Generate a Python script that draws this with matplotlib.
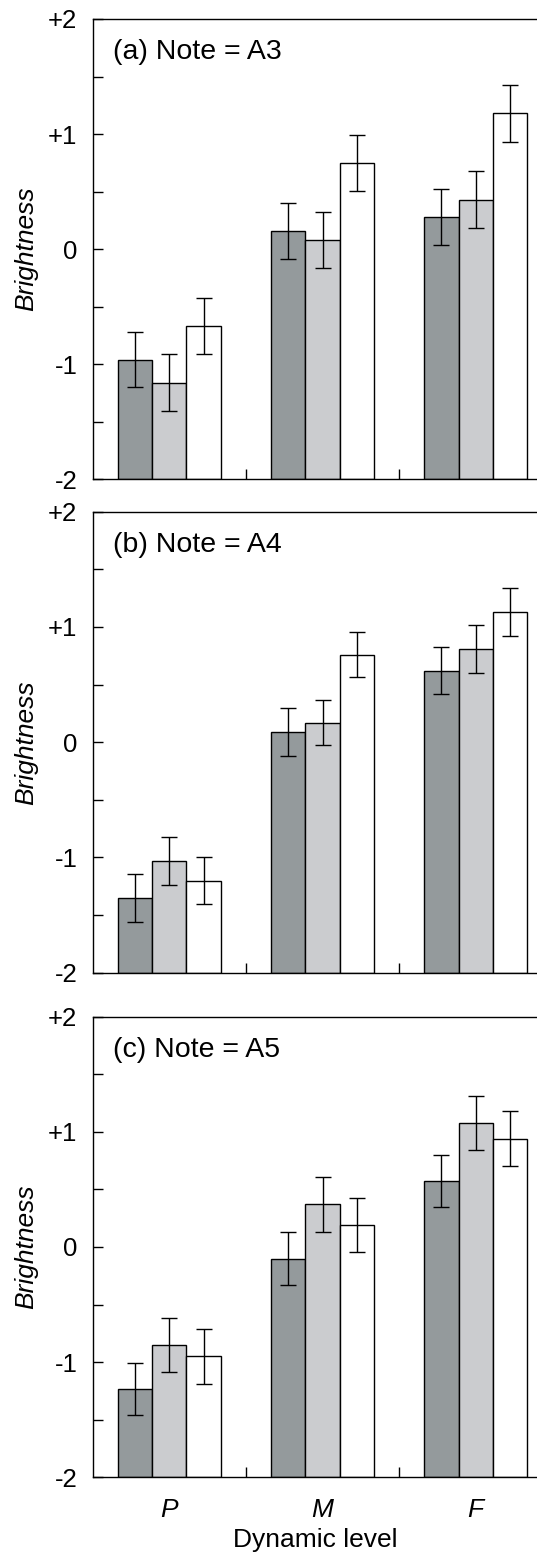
import numpy as np
import matplotlib
matplotlib.use("Agg")
import matplotlib.pyplot as plt

plt.rcParams['font.family'] = ['Liberation Sans', 'DejaVu Sans']

levels = ['P', 'M', 'F']
panel_titles = ['(a) Note = A3', '(b) Note = A4', '(c) Note = A5']

# bar heights per panel: rows = dark, light, white series; columns = P, M, F
means_a3 = [[-0.96, 0.16, 0.28],
            [-1.16, 0.08, 0.43],
            [-0.67, 0.75, 1.18]]
errs_a3 = [[0.24, 0.245, 0.24],
           [0.245, 0.24, 0.245],
           [0.245, 0.245, 0.245]]

means_a4 = [[-1.35, 0.09, 0.62],
            [-1.03, 0.17, 0.81],
            [-1.20, 0.76, 1.13]]
errs_a4 = [[0.21, 0.21, 0.205],
           [0.205, 0.197, 0.21],
           [0.205, 0.197, 0.21]]

means_a5 = [[-1.23, -0.10, 0.57],
            [-0.85, 0.37, 1.08],
            [-0.95, 0.19, 0.94]]
errs_a5 = [[0.225, 0.226, 0.226],
           [0.236, 0.239, 0.235],
           [0.238, 0.236, 0.238]]

all_means = [means_a3, means_a4, means_a5]
all_errs = [errs_a3, errs_a4, errs_a5]

bar_colors = ['#949a9c', '#cbcccf', '#ffffff']
bar_w = 0.224
offsets = [-bar_w, 0, bar_w]

W, H = 537, 1559
fig = plt.figure(figsize=(W / 100, H / 100), dpi=100)

# panel boxes in pixels (top, bottom)
boxes = [(19, 479.3), (511.7, 972.7), (1016.7, 1477.3)]
left = 92.7

x = np.arange(len(levels))
for i, (top, bot) in enumerate(boxes):
    ax = fig.add_axes([left / W, 1 - bot / H, (W - left) / W, (bot - top) / H])
    for k in range(3):
        m = np.array(all_means[i][k])
        # bars grow from the bottom of the axis (-2)
        ax.bar(x + offsets[k], m + 2, width=bar_w, bottom=-2,
               color=bar_colors[k], edgecolor='black', linewidth=1.0, zorder=2)
        ax.errorbar(x + offsets[k], m, yerr=all_errs[i][k],
                    fmt='none', ecolor='black', elinewidth=1.0, capsize=5.7,
                    capthick=1.0, zorder=3)

    ax.set_xlim(-0.5, 2.4)
    ax.set_ylim(-2, 2)
    ax.spines['right'].set_visible(False)
    for s in ['left', 'top', 'bottom']:
        ax.spines[s].set_linewidth(1.0)

    ax.set_yticks([-2, -1, 0, 1, 2])
    ax.set_yticklabels(['-2', '-1', '0', '+1', '+2'])
    ax.set_yticks([-1.5, -0.5, 0.5, 1.5], minor=True)
    ax.tick_params(axis='y', which='both', direction='in', length=7, width=1.0,
                   labelsize=18.5, pad=11)

    ax.set_xticks(x)
    ax.set_xticks([0.5, 1.5], minor=True)
    ax.tick_params(axis='x', which='major', length=0, labelsize=19, pad=15)
    ax.tick_params(axis='x', which='minor', direction='in', length=7, width=1.0)
    if i == 2:
        ax.set_xticklabels(levels, fontstyle='italic')
        ax.set_xlabel('Dynamic level', fontsize=19, labelpad=4)
    else:
        ax.set_xticklabels([])

    ax.set_ylabel('Brightness', fontsize=19, fontstyle='italic')
    ax.yaxis.set_label_coords(-0.123, 0.5)

    ax.text(0.046, 0.928, panel_titles[i], transform=ax.transAxes,
            fontsize=20.5, ha='left', va='center')

fig.savefig('out.png', dpi=100)
